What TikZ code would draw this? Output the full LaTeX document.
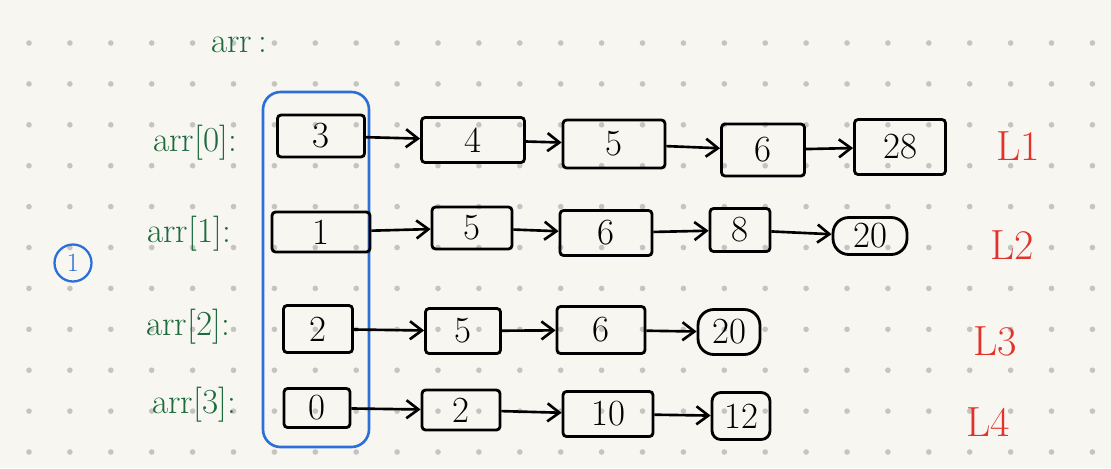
\documentclass[tikz,border=0pt]{standalone}
\usepackage{tikz}
\usetikzlibrary{arrows.meta}
\definecolor{paper}{HTML}{F8F6F1}
\definecolor{griddot}{HTML}{C6C4C0}
\definecolor{pengreen}{HTML}{1D6B3C}
\definecolor{penred}{HTML}{E2322B}
\definecolor{penblue}{HTML}{2B6FD8}
\tikzset{
  cell/.style={draw=black, line width=1.6pt, rounded corners=2pt, inner sep=0pt,
               font=\fontsize{21}{24}\selectfont},
  tail/.style={cell, rounded corners=9pt},                      % last list node, round box
  link/.style={black, line width=1.5pt, -{Straight Barb[length=2.4mm,width=3.6mm]}},
  head/.style={pengreen, anchor=east, font=\fontsize{20}{23}\selectfont},
  lst/.style={penred, font=\fontsize{24}{28}\selectfont},
  arrbox/.style={draw=penblue, line width=1.5pt, rounded corners=10pt},
}

\begin{document}
\begin{tikzpicture}[x=0.02cm, y=-0.02cm]
  % canvas in pixels: 1111 x 468, y grows downwards
  \useasboundingbox (0,0) rectangle (1111,468);
  \fill[paper] (0,0) rectangle (1111,468);

  % --- dotted paper ---
  \foreach \i in {0,...,26}
    \foreach \j in {0,...,10}
      \fill[griddot] (29+40.9*\i,43+40.9*\j) circle (1.6pt);

  % --- array name and row labels ---
  \node[pengreen, anchor=west, font=\fontsize{20}{23}\selectfont] (arr) at (205,45) {arr\,:};
  \node[head] (h0) at (243,143) {arr[0]:};
  \node[head] (h1) at (237,234) {arr[1]:};
  \node[head] (h2) at (236,327) {arr[2]:};
  \node[head] (h3) at (242,405) {arr[3]:};

  % --- circled step number ---
  \node[draw=penblue, text=penblue, circle, line width=1.3pt, inner sep=0pt,
        minimum size=0.74cm, font=\fontsize{15}{17}\selectfont] (step1) at (73,263) {1};

  % --- the array itself (first column) ---
  \draw[arrbox] (263,92) rectangle (369,447);

  % --- list L1 ---
  \node[cell, minimum width=1.74cm, minimum height=0.84cm] (n00) at (321,136) {3};
  \node[cell, minimum width=2.06cm, minimum height=0.90cm] (n01) at (473,140) {4};
  \node[cell, minimum width=2.04cm, minimum height=0.96cm] (n02) at (614,144) {5};
  \node[cell, minimum width=1.66cm, minimum height=1.04cm] (n03) at (763,150) {6};
  \node[cell, minimum width=1.82cm, minimum height=1.10cm] (n04) at (900,147) {28};
  \draw[link] (n00) -- (n01);
  \draw[link] (n01) -- (n02);
  \draw[link] (n02) -- (n03);
  \draw[link] (n03) -- (n04);

  % --- list L2 ---
  \node[cell, minimum width=1.96cm, minimum height=0.80cm] (n10) at (321,232) {1};
  \node[cell, minimum width=1.60cm, minimum height=0.84cm] (n11) at (472,228) {5};
  \node[cell, minimum width=1.84cm, minimum height=0.90cm] (n12) at (606,233) {6};
  \node[cell, minimum width=1.20cm, minimum height=0.86cm] (n13) at (740,230) {8};
  \node[tail, minimum width=1.48cm, minimum height=0.74cm] (n14) at (870,236) {20};
  \draw[link] (n10) -- (n11);
  \draw[link] (n11) -- (n12);
  \draw[link] (n12) -- (n13);
  \draw[link] (n13) -- (n14);

  % --- list L3 ---
  \node[cell, minimum width=1.38cm, minimum height=0.94cm] (n20) at (318,329) {2};
  \node[cell, minimum width=1.50cm, minimum height=0.90cm] (n21) at (463,331) {5};
  \node[cell, minimum width=1.76cm, minimum height=0.94cm] (n22) at (601,330) {6};
  \node[tail, minimum width=1.24cm, minimum height=0.90cm] (n23) at (729,332) {20};
  \draw[link] (n20) -- (n21);
  \draw[link] (n21) -- (n22);
  \draw[link] (n22) -- (n23);

  % --- list L4 ---
  \node[cell, minimum width=1.32cm, minimum height=0.78cm] (n30) at (317,408) {0};
  \node[cell, minimum width=1.56cm, minimum height=0.80cm] (n31) at (461,410) {2};
  \node[cell, minimum width=1.80cm, minimum height=0.90cm] (n32) at (608,414) {10};
  \node[cell, rounded corners=5pt, minimum width=1.16cm, minimum height=0.94cm] (n33) at (741,416) {12};
  \draw[link] (n30) -- (n31);
  \draw[link] (n31) -- (n32);
  \draw[link] (n32) -- (n33);

  % --- list names ---
  \node[lst] (L1) at (1018,146) {L1};
  \node[lst] (L2) at (1012,245) {L2};
  \node[lst] (L3) at (995,341) {L3};
  \node[lst] (L4) at (988,422) {L4};
\end{tikzpicture}
\end{document}
